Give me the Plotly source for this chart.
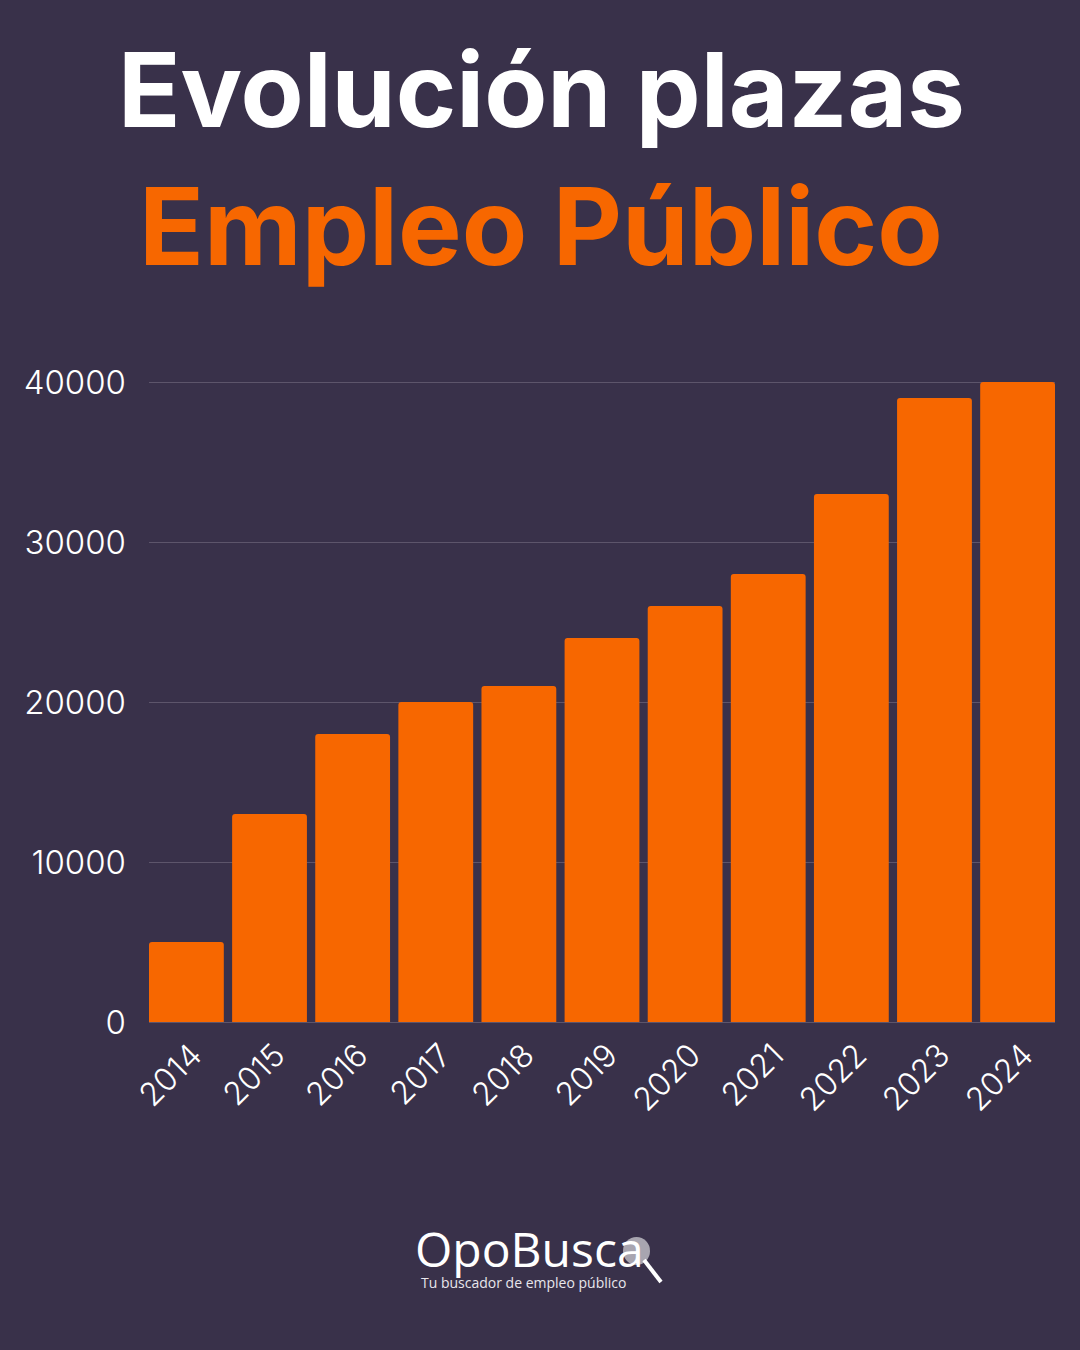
import plotly.graph_objects as go

years = ["2014","2015","2016","2017","2018","2019","2020","2021","2022","2023","2024"]
plazas = [5000,13000,18000,20000,21000,24000,26000,28000,33000,39000,40000]
y_ticks = [0,10000,20000,30000,40000]
y_range = [-125,40125]
title_1 = "Evolución plazas"
title_2 = "Empleo Público"
logo_main = "OpoBusca"
logo_sub = "Tu buscador de empleo público"

BG = "#39314a"
ORANGE = "#f76700"
GRID = "#5d556b"
W, H = 1080, 1350
fig = go.Figure(go.Bar(x=years, y=plazas, marker=dict(color=ORANGE, cornerradius=3, line_width=0), width=0.9))
fig.update_layout(
    width=W, height=H, paper_bgcolor=BG, plot_bgcolor=BG, showlegend=False,
    margin=dict(l=0,r=0,t=0,b=0,autoexpand=False),
    xaxis=dict(domain=[149/W,1055/W], range=[-0.45,10.45], tickangle=-45, automargin=False,
               tickfont=dict(family="Inter",size=32,color="white",weight=300),
               showgrid=False, zeroline=False, ticks="", ticklabelstandoff=5, ticklabelshift=6),
    yaxis=dict(domain=[(H-1024)/H,(H-380)/H], range=y_range, tickvals=y_ticks, ticktext=[str(v) for v in y_ticks],
               automargin=False,
               tickfont=dict(family="Inter",size=33,color="white",weight=300), gridcolor=GRID, gridwidth=1,
               zeroline=True, zerolinecolor=GRID, zerolinewidth=1,
               ticks="", ticklabelstandoff=22),
)
def txt(s,x,y,size,color,family="Inter",weight=700):
    fig.add_annotation(text=s,x=x/W,y=1-y/H,xref="paper",yref="paper",xanchor="center",yanchor="middle",showarrow=False,
                       font=dict(family=family,size=size,color=color,weight=weight))
txt(title_1,541,89,103,"white")
txt(title_2,541,226,107,ORANGE)
txt(logo_main,529,1248,48,"white","Open Sans",400)
txt(logo_sub,523,1282,14,"#e8e6ec","Open Sans",400)
fig.add_shape(type="circle",xref="paper",yref="paper",x0=623/W,x1=650/W,y0=1-1265/H,y1=1-1237/H,
              fillcolor="rgba(215,215,220,0.7)",line_width=0,layer="below")
fig.add_shape(type="line",xref="paper",yref="paper",x0=644/W,x1=661/W,y0=1-1260/H,y1=1-1282/H,
              line=dict(color="white",width=4))
fig.write_html("out.html", config=dict(displayModeBar=False),
               post_script="document.body.style.margin='0';document.body.style.background='%s';document.documentElement.style.overflow='hidden';" % BG)
